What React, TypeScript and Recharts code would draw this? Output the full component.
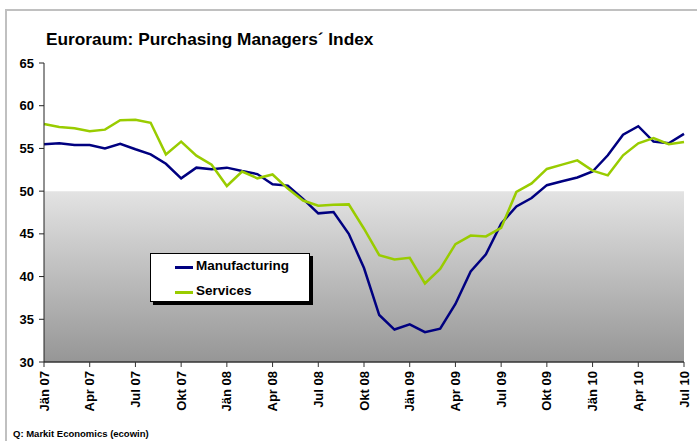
import React from "react";
import {
  LineChart,
  Line,
  XAxis,
  YAxis,
  ReferenceArea,
} from "recharts";

const months = [
  "Jän 07", "Feb 07", "Mär 07", "Apr 07", "Mai 07", "Jun 07",
  "Jul 07", "Aug 07", "Sep 07", "Okt 07", "Nov 07", "Dez 07",
  "Jän 08", "Feb 08", "Mär 08", "Apr 08", "Mai 08", "Jun 08",
  "Jul 08", "Aug 08", "Sep 08", "Okt 08", "Nov 08", "Dez 08",
  "Jän 09", "Feb 09", "Mär 09", "Apr 09", "Mai 09", "Jun 09",
  "Jul 09", "Aug 09", "Sep 09", "Okt 09", "Nov 09", "Dez 09",
  "Jän 10", "Feb 10", "Mär 10", "Apr 10", "Mai 10", "Jun 10",
  "Jul 10",
];

const manufacturing = [
  55.5, 55.6, 55.4, 55.4, 55.0, 55.55, 54.9, 54.3, 53.2, 51.5, 52.75, 52.55,
  52.75, 52.35, 52.0, 50.8, 50.65, 49.1, 47.4, 47.55, 45.0, 41.0, 35.5, 33.8,
  34.4, 33.5, 33.9, 36.8, 40.6, 42.6, 46.2, 48.2, 49.2, 50.7, 51.15, 51.6,
  52.3, 54.2, 56.6, 57.6, 55.8, 55.6, 56.7,
];

const services = [
  57.85, 57.5, 57.35, 57.0, 57.2, 58.3, 58.35, 58.0, 54.3, 55.8, 54.15, 53.1,
  50.6, 52.3, 51.5, 51.95, 50.3, 48.9, 48.3, 48.4, 48.45, 45.6, 42.5, 42.0,
  42.2, 39.2, 40.9, 43.8, 44.8, 44.7, 45.7, 49.9, 50.9, 52.6, 53.1, 53.6,
  52.4, 51.85, 54.2, 55.6, 56.2, 55.5, 55.75,
];

const yTicks = [30, 35, 40, 45, 50, 55, 60, 65];

const data = months.map((m, i) => ({
  month: m,
  manufacturing: manufacturing[i],
  services: services[i],
}));

const font = "Arial, 'Liberation Sans', sans-serif";

const XTick = (props: any) => {
  const { x, y, payload } = props;
  return (
    <g transform={`translate(${x},${y + 2})`}>
      <text
        x={0}
        y={0}
        dy="0.35em"
        transform="rotate(-90)"
        textAnchor="end"
        fontFamily={font}
        fontWeight="bold"
        fontSize={13}
        fill="#000"
      >
        {payload.value}
      </text>
    </g>
  );
};

export default function App() {
  return (
    <div
      style={{
        position: "absolute",
        left: 0,
        top: 0,
        width: 697,
        height: 441,
        background: "#fff",
        fontFamily: font,
      }}
    >
      <div
        style={{
          position: "absolute",
          left: 5,
          top: 9,
          width: 700,
          height: 440,
          borderTop: "2px solid #c0c0c0",
          borderLeft: "2px solid #c0c0c0",
        }}
      />
      <div
        style={{
          position: "absolute",
          left: 46,
          top: 28.5,
          fontSize: 17.3,
          fontWeight: "bold",
          color: "#000",
          whiteSpace: "nowrap",
        }}
      >
        Euroraum: Purchasing Managers´ Index
      </div>

      <LineChart
        width={697}
        height={441}
        data={data}
        margin={{ top: 63, right: 13, left: 0, bottom: 0 }}
      >
        <defs>
          <linearGradient id="bg" x1="0" y1="0" x2="0" y2="1">
            <stop offset="0%" stopColor="#e3e3e3" />
            <stop offset="100%" stopColor="#969696" />
          </linearGradient>
        </defs>
        <ReferenceArea y1={30} y2={50} fill="url(#bg)" fillOpacity={1} stroke="none" />
        <XAxis
          dataKey="month"
          interval={2}
          height={79}
          tick={<XTick />}
          tickSize={5}
          axisLine={{ stroke: "#333", strokeWidth: 1.5 }}
          tickLine={{ stroke: "#333" }}
        />
        <YAxis
          domain={[30, 65]}
          ticks={yTicks}
          width={44}
          tickSize={5}
          tickMargin={5}
          interval={0}
          axisLine={{ stroke: "#222" }}
          tickLine={{ stroke: "#222" }}
          tick={{ fontFamily: font, fontWeight: "bold", fontSize: 13, fill: "#000" }}
        />
        <Line
          type="linear"
          dataKey="manufacturing"
          stroke="#000080"
          strokeWidth={2.5}
          dot={false}
          isAnimationActive={false}
        />
        <Line
          type="linear"
          dataKey="services"
          stroke="#99cc00"
          strokeWidth={2.5}
          dot={false}
          isAnimationActive={false}
        />
      </LineChart>

      <div
        style={{
          position: "absolute",
          left: 150,
          top: 253,
          width: 158,
          height: 47,
          background: "#fff",
          border: "1px solid #000",
          boxShadow: "3px 3px 0 #000",
          fontSize: 13.5,
          fontWeight: "bold",
        }}
      >
        <div style={{ position: "absolute", left: 24, top: 12, width: 18, height: 3, background: "#000080" }} />
        <div style={{ position: "absolute", left: 45, top: 4 }}>Manufacturing</div>
        <div style={{ position: "absolute", left: 24, top: 37, width: 18, height: 3, background: "#99cc00" }} />
        <div style={{ position: "absolute", left: 45, top: 29 }}>Services</div>
      </div>

      <div
        style={{
          position: "absolute",
          left: 13,
          top: 427.5,
          fontSize: 9.5,
          fontWeight: "bold",
          color: "#000",
          whiteSpace: "nowrap",
        }}
      >
        Q: Markit Economics (ecowin)
      </div>
    </div>
  );
}
